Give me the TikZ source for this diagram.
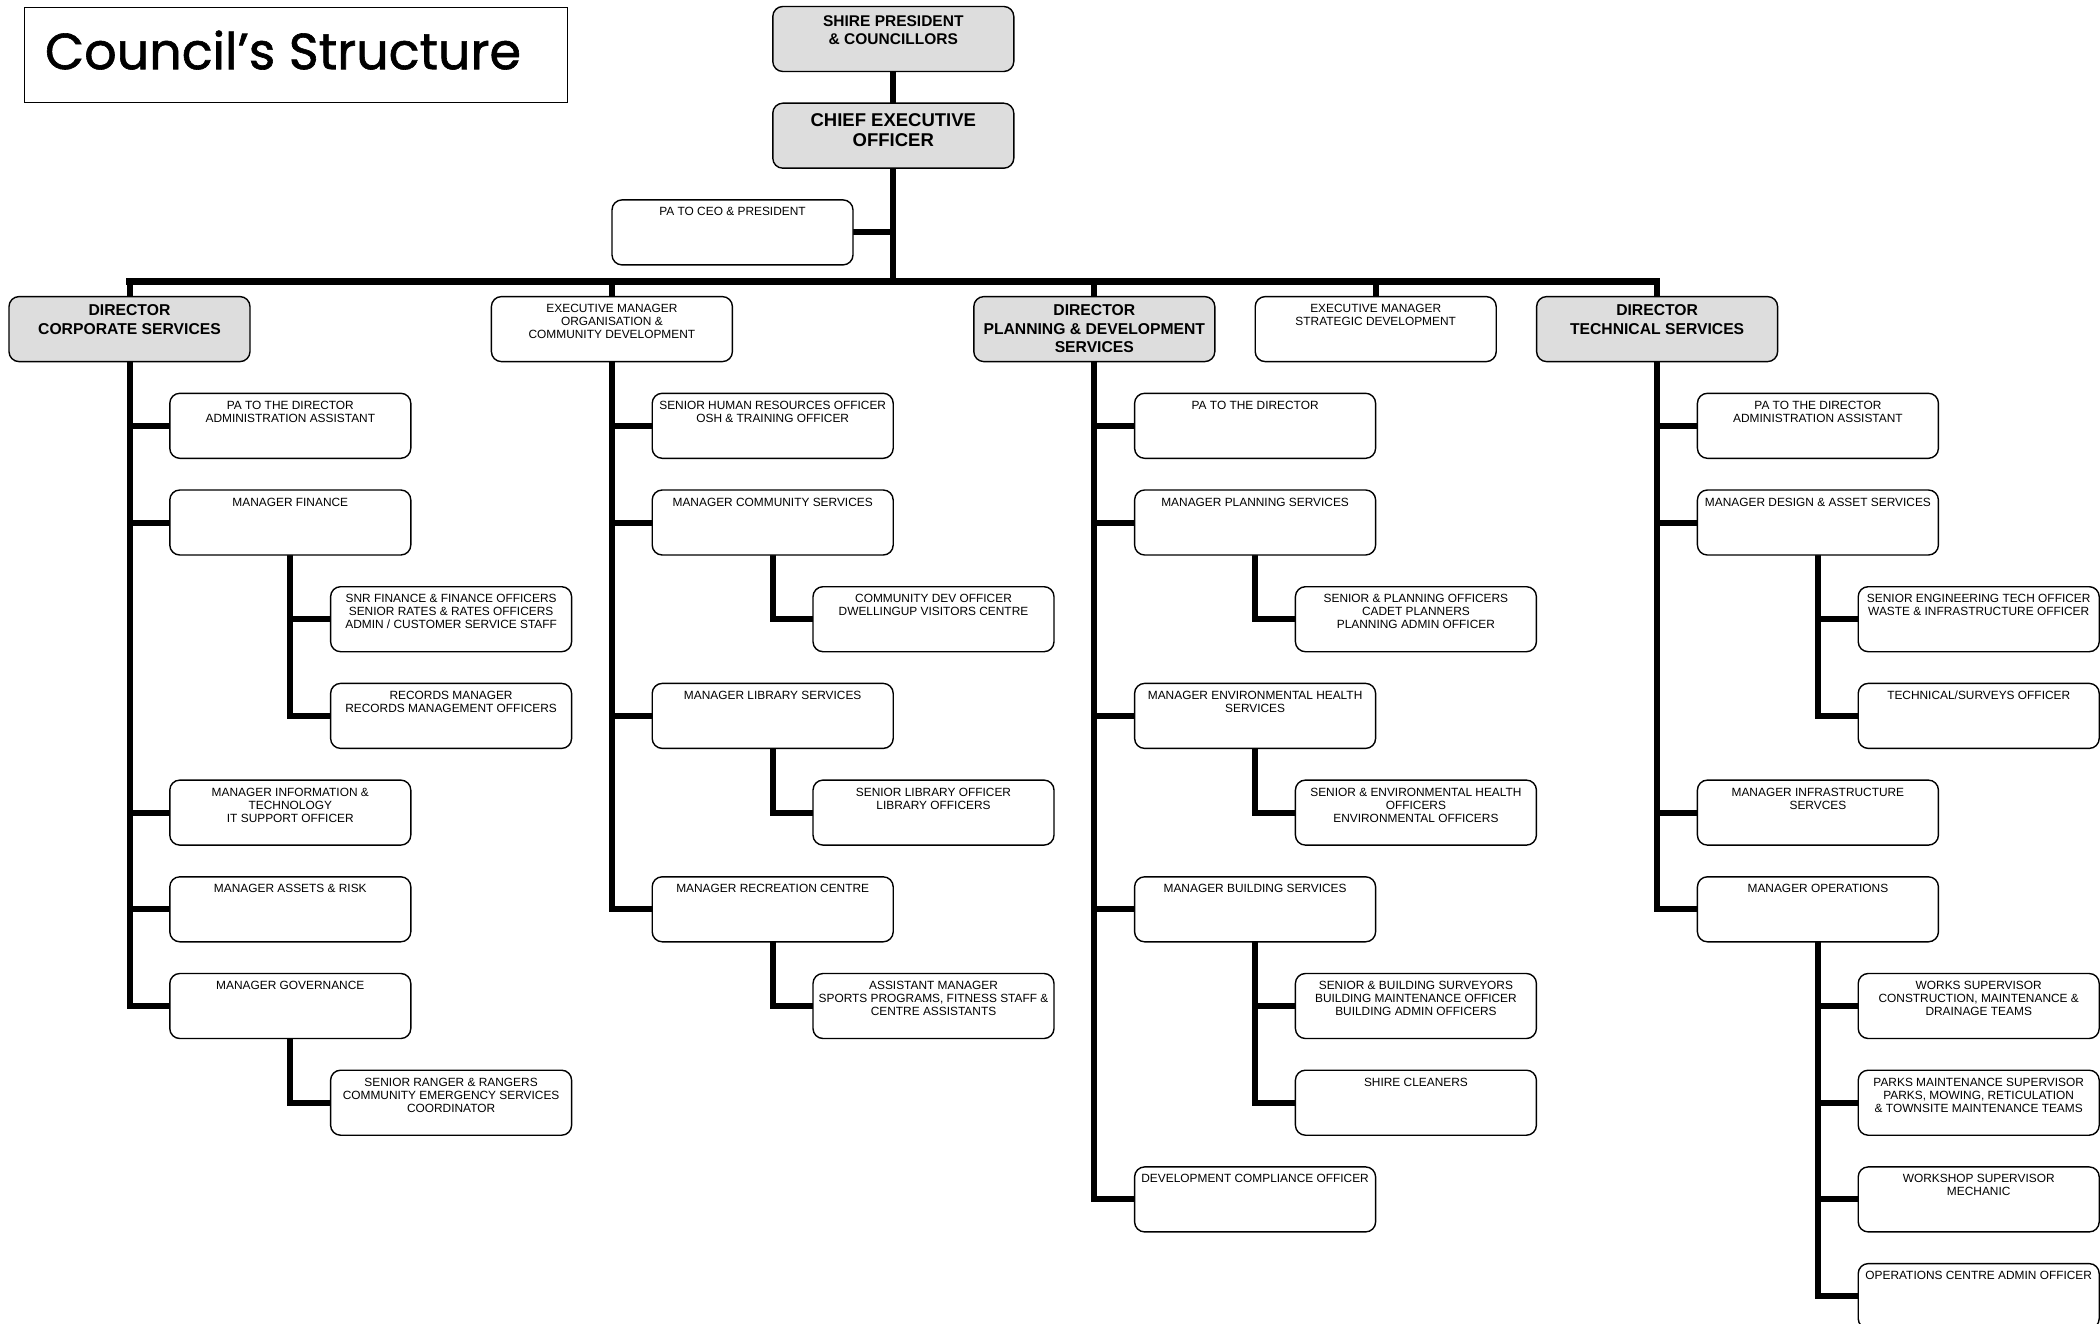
\documentclass[tikz,border=0pt]{standalone}
\usepackage{fontspec}
\usepackage{graphicx}
\setmainfont{Liberation Sans}
\newfontfamily\titlefont{Poppins}[FakeBold=1.2]
\usetikzlibrary{backgrounds}
\definecolor{boxgray}{RGB}{221,221,221}
\newcommand\boxtext[3]{\makebox[241pt][c]{\parbox[c][65pt][t]{262pt}{#2\centering\rule{0pt}{#1}#3}}}
\newcommand\sfs{\fontsize{11.9pt}{13pt}\selectfont}
\newcommand\wb[4]{\node[wbox] (#1) at ({9+40.2*#2},{6.5+96.7*#3}) {\boxtext{16pt}{\sfs}{#4}};}
\newcommand\gb[4]{\node[gbox] (#1) at ({9+40.2*#2},{6.5+96.7*#3}) {\boxtext{19pt}{\fontsize{15.7pt}{18.5pt}\selectfont\bfseries}{#4}};}
\tikzset{
  orgbox/.style={draw=black, line width=1.4pt, rounded corners=10pt, inner sep=0pt, outer sep=0pt, anchor=north west},
  wbox/.style={orgbox, fill=white},
  gbox/.style={orgbox, fill=boxgray},
  conn/.style={line width=6pt, line join=miter, line cap=butt},
  busline/.style={line width=6.5pt, line join=miter, line cap=rect},
}
\begin{document}
\begin{tikzpicture}[x=1pt,y=-1pt]
\useasboundingbox (0,0) rectangle (2100,1324);
% title
\node[draw, line width=1.3pt, minimum width=543pt, minimum height=95pt, anchor=north west, inner sep=0pt] (titlebox) at (24,7) {};
\node[anchor=base, inner sep=0pt] (title) at (283,69.2) {\resizebox{476pt}{!}{\titlefont Council’s Structure}};
% top
\node[gbox] (shire) at ({9+40.2*19},{6.5}) {\boxtext{20pt}{\fontsize{15.5pt}{18.3pt}\selectfont\bfseries}{SHIRE PRESIDENT\\\& COUNCILLORS}};
\node[gbox] (ceo) at ({9+40.2*19},{6.5+96.7}) {\boxtext{23.4pt}{\fontsize{18.5pt}{20pt}\selectfont\bfseries}{CHIEF EXECUTIVE\\OFFICER}};
\wb{paceo}{15}{2}{PA TO CEO \& PRESIDENT}
% directors
\gb{dcorp}{0}{3}{DIRECTOR\\CORPORATE SERVICES}
\wb{dorg}{12}{3}{EXECUTIVE MANAGER\\ORGANISATION \&\\COMMUNITY DEVELOPMENT}
\gb{dplan}{24}{3}{DIRECTOR\\PLANNING \& DEVELOPMENT\\SERVICES}
\wb{dstrat}{31}{3}{EXECUTIVE MANAGER\\STRATEGIC DEVELOPMENT}
\gb{dtech}{38}{3}{DIRECTOR\\TECHNICAL SERVICES}
% corporate
\wb{cpa}{4}{4}{PA TO THE DIRECTOR\\ADMINISTRATION ASSISTANT}
\wb{mfin}{4}{5}{MANAGER FINANCE}
\wb{snr}{8}{6}{SNR FINANCE \& FINANCE OFFICERS\\SENIOR RATES \& RATES OFFICERS\\ADMIN / CUSTOMER SERVICE STAFF}
\wb{recm}{8}{7}{RECORDS MANAGER\\RECORDS MANAGEMENT OFFICERS}
\wb{mit}{4}{8}{MANAGER INFORMATION \&\\TECHNOLOGY\\IT SUPPORT OFFICER}
\wb{mar}{4}{9}{MANAGER ASSETS \& RISK}
\wb{mgov}{4}{10}{MANAGER GOVERNANCE}
\wb{rang}{8}{11}{SENIOR RANGER \& RANGERS\\COMMUNITY EMERGENCY SERVICES\\COORDINATOR}
% organisation
\wb{hr}{16}{4}{SENIOR HUMAN RESOURCES OFFICER\\OSH \& TRAINING OFFICER}
\wb{mcom}{16}{5}{MANAGER COMMUNITY SERVICES}
\wb{cdo}{20}{6}{COMMUNITY DEV OFFICER\\DWELLINGUP VISITORS CENTRE}
\wb{mlib}{16}{7}{MANAGER LIBRARY SERVICES}
\wb{slib}{20}{8}{SENIOR LIBRARY OFFICER\\LIBRARY OFFICERS}
\wb{mrec}{16}{9}{MANAGER RECREATION CENTRE}
\wb{asst}{20}{10}{ASSISTANT MANAGER\\SPORTS PROGRAMS, FITNESS STAFF \&\\CENTRE ASSISTANTS}
% planning
\wb{ppa}{28}{4}{PA TO THE DIRECTOR}
\wb{mplan}{28}{5}{MANAGER PLANNING SERVICES}
\wb{spo}{32}{6}{SENIOR \& PLANNING OFFICERS\\CADET PLANNERS\\PLANNING ADMIN OFFICER}
\wb{menv}{28}{7}{MANAGER ENVIRONMENTAL HEALTH\\SERVICES}
\wb{seh}{32}{8}{SENIOR \& ENVIRONMENTAL HEALTH\\OFFICERS\\ENVIRONMENTAL OFFICERS}
\wb{mbld}{28}{9}{MANAGER BUILDING SERVICES}
\wb{sbs}{32}{10}{SENIOR \& BUILDING SURVEYORS\\BUILDING MAINTENANCE OFFICER\\BUILDING ADMIN OFFICERS}
\wb{clean}{32}{11}{SHIRE CLEANERS}
\wb{dco}{28}{12}{DEVELOPMENT COMPLIANCE OFFICER}
% technical
\wb{tpa}{42}{4}{PA TO THE DIRECTOR\\ADMINISTRATION ASSISTANT}
\wb{mdes}{42}{5}{MANAGER DESIGN \& ASSET SERVICES}
\wb{seng}{46}{6}{SENIOR ENGINEERING TECH OFFICER\\WASTE \& INFRASTRUCTURE OFFICER}
\wb{tso}{46}{7}{TECHNICAL/SURVEYS OFFICER}
\wb{minf}{42}{8}{MANAGER INFRASTRUCTURE\\SERVCES}
\wb{mops}{42}{9}{MANAGER OPERATIONS}
\wb{works}{46}{10}{WORKS SUPERVISOR\\CONSTRUCTION, MAINTENANCE \&\\DRAINAGE TEAMS}
\wb{parks}{46}{11}{PARKS MAINTENANCE SUPERVISOR\\PARKS, MOWING, RETICULATION\\\& TOWNSITE MAINTENANCE TEAMS}
\wb{wsh}{46}{12}{WORKSHOP SUPERVISOR\\MECHANIC}
\wb{opsc}{46}{13}{OPERATIONS CENTRE ADMIN OFFICER}
% connectors
\begin{scope}[on background layer]
\coordinate (busy) at (0,281.7);
\draw[conn] (shire.south) -- (ceo.north);
\draw[conn] (ceo.south) -- (ceo.south |- busy);
\draw[conn] (paceo.east) -- (paceo.east -| ceo.south);
\draw[busline] (dcorp.north |- busy) -- (dtech.north |- busy);
\foreach \d in {dcorp,dorg,dplan,dstrat,dtech}
  \draw[conn] (\d.north) -- (\d.north |- busy);
\foreach \c in {cpa,mfin,mit,mar,mgov} \draw[conn] (dcorp.south) |- (\c.west);
\foreach \c in {snr,recm} \draw[conn] (mfin.south) |- (\c.west);
\draw[conn] (mgov.south) |- (rang.west);
\foreach \c in {hr,mcom,mlib,mrec} \draw[conn] (dorg.south) |- (\c.west);
\draw[conn] (mcom.south) |- (cdo.west);
\draw[conn] (mlib.south) |- (slib.west);
\draw[conn] (mrec.south) |- (asst.west);
\foreach \c in {ppa,mplan,menv,mbld,dco} \draw[conn] (dplan.south) |- (\c.west);
\draw[conn] (mplan.south) |- (spo.west);
\draw[conn] (menv.south) |- (seh.west);
\foreach \c in {sbs,clean} \draw[conn] (mbld.south) |- (\c.west);
\foreach \c in {tpa,mdes,minf,mops} \draw[conn] (dtech.south) |- (\c.west);
\foreach \c in {seng,tso} \draw[conn] (mdes.south) |- (\c.west);
\foreach \c in {works,parks,wsh,opsc} \draw[conn] (mops.south) |- (\c.west);
\end{scope}
\end{tikzpicture}
\end{document}
